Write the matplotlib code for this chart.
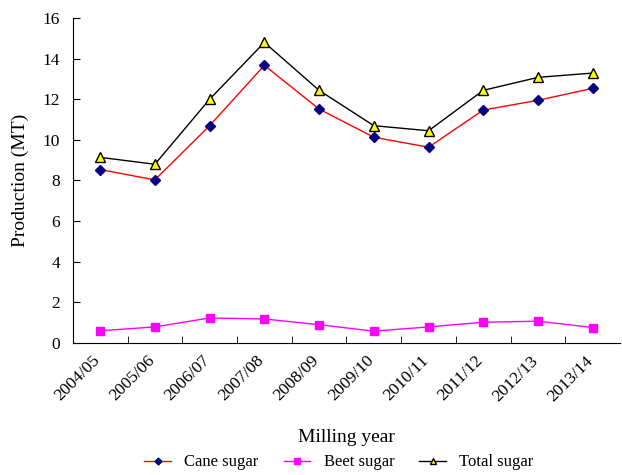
import matplotlib
matplotlib.use("Agg")
import matplotlib.pyplot as plt
import matplotlib.transforms as mtrans
import numpy as np

years = ["2004/05", "2005/06", "2006/07", "2007/08", "2008/09",
         "2009/10", "2010/11", "2011/12", "2012/13", "2013/14"]
cane = [8.54, 8.03, 10.70, 13.67, 11.52, 10.13, 9.64, 11.47, 11.95, 12.54]
beet = [0.60, 0.79, 1.23, 1.18, 0.90, 0.58, 0.79, 1.02, 1.07, 0.76]
total = [9.14, 8.80, 12.00, 14.80, 12.44, 10.70, 10.45, 12.44, 13.08, 13.29]

plt.rcParams['font.family'] = ['Liberation Serif', 'DejaVu Serif']

fig = plt.figure(figsize=(6.22, 4.75), dpi=100)
ax = fig.add_axes([0.117, 0.278, 0.88, 0.684])

x = np.arange(len(years))
ax.plot(x, cane, color='red', lw=1, marker='D', ms=5, mfc='#000080', mec='#000080', label='Cane sugar')
ax.plot(x, beet, color='magenta', lw=1, marker='s', ms=6, mfc='magenta', mec='magenta', label='Beet sugar')
ax.plot(x, total, color='black', lw=1, marker='^', ms=7, mfc='yellow', mec='black', label='Total sugar')

ax.set_xlim(-0.5, len(years) - 0.5)
ax.set_ylim(0, 16)
ax.set_yticks(range(0, 17, 2))
ax.tick_params(axis='y', direction='in', length=5, labelsize=12.5, pad=9)

ax.set_xticks(x)
ax.set_xticklabels(years, rotation=45, ha='right', va='top', rotation_mode='anchor', fontsize=12.5)
ax.tick_params(axis='x', which='major', length=0, pad=7)
offset = mtrans.ScaledTranslation(-8 / 100, 0, fig.dpi_scale_trans)
for lab in ax.get_xticklabels():
    lab.set_transform(lab.get_transform() + offset)
ax.set_xticks(np.arange(-0.5, len(years) - 0.5, 1), minor=True)
ax.tick_params(axis='x', which='minor', direction='in', length=5)

for s in ['top', 'right']:
    ax.spines[s].set_visible(False)

ax.set_ylabel('Production (MT)', fontsize=14, labelpad=10)
ax.set_xlabel('Milling year', fontsize=14, labelpad=18)

fig.legend(loc='lower center', bbox_to_anchor=(0.545, -0.022), ncol=3, frameon=False,
           fontsize=12, handlelength=1.6, columnspacing=1.5, markerscale=0.7)

fig.savefig('out.png', dpi=100)
